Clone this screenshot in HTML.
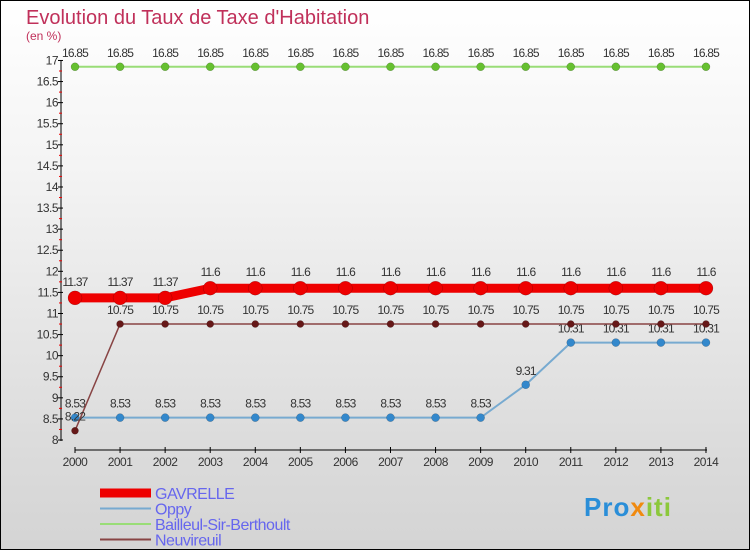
<!DOCTYPE html>
<html><head><meta charset="utf-8"><style>
body{margin:0}
#c{width:750px;height:550px;position:relative;box-sizing:border-box;border:1px solid #000;background:linear-gradient(#fff,#f4f4f4 30%,#dcdcdc 80%,#d4d4d4);font-family:"Liberation Sans","DejaVu Sans",sans-serif;overflow:hidden}
</style></head><body>
<div id="c">
<svg id="s" width="750" height="550" style="position:absolute;left:-1px;top:-1px"></svg>
</div>
<script>
const years=[2000,2001,2002,2003,2004,2005,2006,2007,2008,2009,2010,2011,2012,2013,2014];
const gavrelle=[11.37,11.37,11.37,11.6,11.6,11.6,11.6,11.6,11.6,11.6,11.6,11.6,11.6,11.6,11.6];
const oppy=[8.53,8.53,8.53,8.53,8.53,8.53,8.53,8.53,8.53,8.53,9.31,10.31,10.31,10.31,10.31];
const bailleul=[16.85,16.85,16.85,16.85,16.85,16.85,16.85,16.85,16.85,16.85,16.85,16.85,16.85,16.85,16.85];
const neuvireuil=[8.22,10.75,10.75,10.75,10.75,10.75,10.75,10.75,10.75,10.75,10.75,10.75,10.75,10.75,10.75];
const yTicks=[8,8.5,9,9.5,10,10.5,11,11.5,12,12.5,13,13.5,14,14.5,15,15.5,16,16.5,17];
const NS="http://www.w3.org/2000/svg",s=document.getElementById('s');
const X=i=>75+i*45.07, Y=v=>440-(v-8)*42.17;
function el(t,a,txt){const e=document.createElementNS(NS,t);for(const k in a)e.setAttribute(k,a[k]);if(txt!=null)e.textContent=txt;s.appendChild(e);return e;}
let e;
e=el('text',{x:26,y:24,fill:'#c0305a','font-size':20},'Evolution du Taux de Taxe d\'Habitation');


e=el('text',{x:26,y:40,fill:'#c0305a','font-size':12},'(en %)');


e=el('line',{x1:61,y1:60,x2:61,y2:441,stroke:'#000'});


yTicks.forEach(v=>{
 e=el('line',{x1:58,x2:63,y1:Y(v),y2:Y(v),stroke:'#000'});
 
 
 if(v<17){e=el('line',{x1:59,x2:62,y1:Y(v+0.25),y2:Y(v+0.25),stroke:'#e00'});
 
 }
 e=el('text',{x:58,y:Y(v)+4,'text-anchor':'end','font-size':12,fill:'#333','letter-spacing':'-0.5'},String(v));
 
 
});
e=el('line',{x1:75,y1:450,x2:707,y2:450,stroke:'#000'});


years.forEach((y,i)=>{
 e=el('line',{x1:X(i),x2:X(i),y1:447,y2:453,stroke:'#000'});
 
 
 e=el('text',{x:X(i),y:466,'text-anchor':'middle','font-size':12,fill:'#333','letter-spacing':'-0.5'},String(y));
 
 
});
function series(name,data,color,w,r,dot,labDy){
 const p=data.map((v,i)=>X(i)+','+Y(v)).join(' ');
 e=el('polyline',{points:p,fill:'none',stroke:color,'stroke-width':w});
 
 
 data.forEach((v,i)=>{
  e=el('circle',{cx:X(i),cy:Y(v),r:r,fill:dot,stroke:'rgba(0,0,0,0.3)','stroke-width':0.5});
  
  
  e=el('text',{x:X(i),y:Y(v)+labDy,'text-anchor':'middle','font-size':12,fill:'#333','letter-spacing':'-0.8'},String(v));
  
  
 });
}
series('bailleul',bailleul,'#99dd77',2,4,'#66c030',-10);
series('oppy',oppy,'#77aad0',2,4,'#3388cc',-10);
series('neuvireuil',neuvireuil,'#884444',1.5,3.5,'#661818',-10);
series('gavrelle',gavrelle,'#ee0000',9,7,'#ee0000',-12);
const leg=[['GAVRELLE','#ee0000',9],['Oppy','#77aad0',2],['Bailleul-Sir-Berthoult','#99dd77',2],['Neuvireuil','#884444',2]];
leg.forEach((l,i)=>{
 const y=493+i*15.5;
 e=el('line',{x1:100,x2:151,y1:y,y2:y,stroke:l[1],'stroke-width':l[2]});
 
 
 e=el('text',{x:155,y:y+6,'font-size':16,fill:'#6666ee','letter-spacing':'-0.5'},l[0]);
 
 
});
e=el('text',{x:584,y:516,'font-size':26,'font-weight':'bold','letter-spacing':'1'});
e.innerHTML='<tspan fill="#2a8ed8">Pro</tspan><tspan fill="#f08a10">x</tspan><tspan fill="#8cc83c">iti</tspan>';


</script>
</body></html>
